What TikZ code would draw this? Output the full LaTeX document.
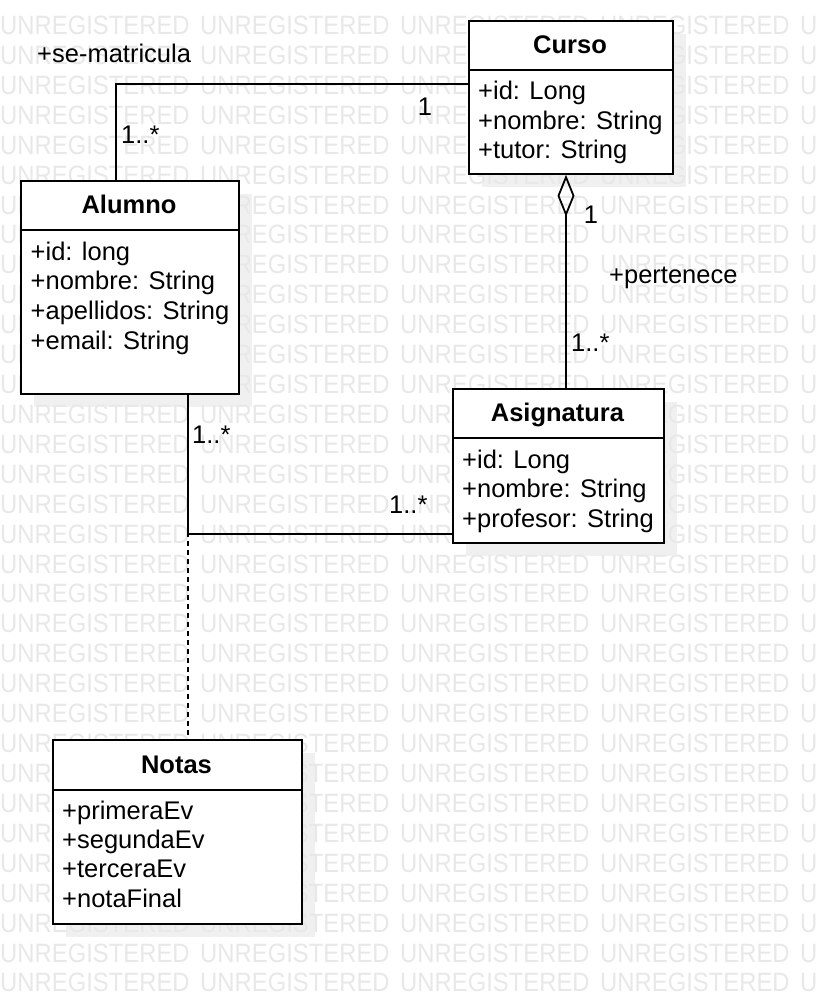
\documentclass[tikz,border=0pt]{standalone}
\usepackage{fontspec}
\setmainfont{Liberation Sans}
\usepackage{graphicx}
\usetikzlibrary{arrows.meta}
\begin{document}
\begin{tikzpicture}[x=1pt,y=-1pt,
  box/.style={draw=black, fill=white, line width=1.8pt, rectangle, inner sep=0pt, anchor=north west},
  shade/.style={fill=black!6, draw=none},
  wm/.style={text=black!9, inner sep=0pt, anchor=base west, font=\fontsize{26.5}{26.5}\selectfont},
  title/.style={font=\fontsize{25.5}{30}\selectfont\bfseries, inner sep=0pt, anchor=base},
  attr/.style={font=\fontsize{25.5}{30}\selectfont, inner sep=0pt, anchor=base west},
  lbl/.style={font=\fontsize{25.5}{30}\selectfont, inner sep=0pt, anchor=base west},
  conn/.style={line width=1.8pt, draw=black},
  divider/.style={line width=1.8pt, draw=black}
]
\useasboundingbox (0,0) rectangle (818,1004);
\clip (0,0) rectangle (818,1004);
\fill[white] (0,0) rectangle (818,1004);

% shadows
\fill[shade] (482,34) rectangle (686,187);
\fill[shade] (34,194) rectangle (252,407);
\fill[shade] (466,402) rectangle (677,556);
\fill[shade] (66,753) rectangle (315,937);

% watermark
\foreach \r in {0,...,32}{
  \foreach \c in {0,...,4}{
    \node[wm] (wm-\r-\c) at ({\c*200},{34.5+\r*29.92}) {\scalebox{0.9}[1]{UNREGISTERED}};
  }
}

% class boxes
\node[box, minimum width=204pt, minimum height=153pt] (curso) at (468,20) {};
\node[box, minimum width=218pt, minimum height=213pt] (alumno) at (20,180) {};
\node[box, minimum width=211pt, minimum height=154pt] (asig) at (452,388) {};
\node[box, minimum width=249pt, minimum height=184pt] (notas) at (52,739) {};

\draw[divider] ([yshift=-50pt]curso.north west) -- ([yshift=-50pt]curso.north east);
\draw[divider] ([yshift=-50pt]alumno.north west) -- ([yshift=-50pt]alumno.north east);
\draw[divider] ([yshift=-50pt]asig.north west) -- ([yshift=-50pt]asig.north east);
\draw[divider] ([yshift=-51pt]notas.north west) -- ([yshift=-51pt]notas.north east);

% titles
\node[title] (cursoT) at (570,53) {Curso};
\node[title] (alumnoT) at (129,213) {Alumno};
\node[title] (asigT) at (557.5,421) {Asignatura};
\node[title] (notasT) at (176.5,773) {Notas};

% attributes
\foreach \t [count=\i from 0] in {+id: Long, +nombre: String, +tutor: String}{
  \node[attr] (ca\i) at (478,{99.5+\i*29.5}) {\t};
}
\foreach \t [count=\i from 0] in {+id: long, +nombre: String, +apellidos: String, +email: String}{
  \node[attr] (aa\i) at (30.5,{260+\i*29.8}) {\t};
}
\foreach \t [count=\i from 0] in {+id: Long, +nombre: String, +profesor: String}{
  \node[attr] (sa\i) at (462,{468+\i*29.5}) {\t};
}
\foreach \t [count=\i from 0] in {+primeraEv, +segundaEv, +terceraEv, +notaFinal}{
  \node[attr] (na\i) at (62,{819+\i*29.4}) {\t};
}

% connectors
\draw[conn] ([xshift=96pt]alumno.north west) |- ([yshift=-64pt]curso.north west);
\draw[conn, {Diamond[open, length=42pt, width=17pt, line width=1.8pt]}-] ([xshift=98pt]curso.south west) -- ([xshift=114pt]asig.north west);
\draw[conn] ([xshift=168pt]alumno.south west) |- ([yshift=10pt]asig.south west);
\coordinate (junction) at (188,532);
\draw[conn, dash pattern=on 5pt off 4pt] (junction) -- ([xshift=136pt]notas.north west);

% labels
\node[lbl] (l1) at (37,62) {+se-matricula};
\node[lbl] (l2) at (121,143) {1..*};
\node[lbl, anchor=base] (l3) at (425,115) {1};
\node[lbl, anchor=base] (l4) at (591,223) {1};
\node[lbl] (l5) at (609,283) {+pertenece};
\node[lbl] (l6) at (571,351) {1..*};
\node[lbl] (l7) at (192,443) {1..*};
\node[lbl] (l8) at (389,513) {1..*};
\end{tikzpicture}
\end{document}
